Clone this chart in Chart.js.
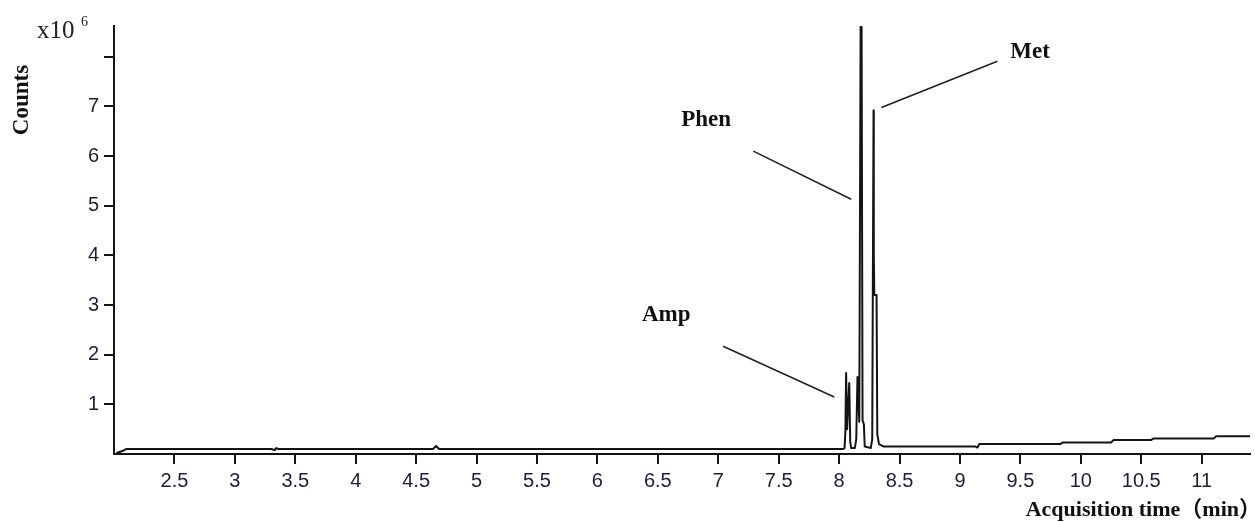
<!DOCTYPE html>
<html>
<head>
<meta charset="utf-8">
<script src="https://cdn.jsdelivr.net/npm/chart.js@4"></script>
<style>
  body { margin: 0; background: #fff; }
</style>
</head>
<body>
<canvas id="tic" width="1255" height="522"></canvas>
<script>
// total ion chromatogram, counts in units of 10^6
const retentionTime = [
  2.02, 2.07, 2.1, 3.3, 3.33, 3.345, 3.36, 4.64, 4.665, 4.69,
  8.03, 8.045, 8.052, 8.058, 8.066, 8.084, 8.092, 8.1,
  8.13, 8.142, 8.152, 8.167, 8.178, 8.186, 8.194, 8.205, 8.212,
  8.262, 8.274, 8.285, 8.287, 8.291, 8.31, 8.316, 8.33, 8.37,
  9.13, 9.145, 9.16, 9.83, 9.85, 10.25, 10.27, 10.58, 10.6, 11.1, 11.12, 11.4
];
const signal = [
  0.02, 0.06, 0.1, 0.1, 0.08, 0.12, 0.1, 0.1, 0.16, 0.1,
  0.1, 0.12, 0.45, 1.63, 0.5, 1.43, 0.25, 0.12,
  0.12, 0.3, 1.55, 0.65, 8.6, 8.6, 0.68, 0.6, 0.15,
  0.12, 0.3, 6.92, 4.04, 3.2, 3.2, 0.4, 0.2, 0.15,
  0.15, 0.13, 0.2, 0.2, 0.23, 0.23, 0.28, 0.28, 0.31, 0.31, 0.36, 0.36
];

const xTicks = [2.5, 3, 3.5, 4, 4.5, 5, 5.5, 6, 6.5, 7, 7.5, 8, 8.5, 9, 9.5, 10, 10.5, 11];
const yTicks = [1, 2, 3, 4, 5, 6, 7, 8];
const yTickLabels = ['1', '2', '3', '4', '5', '6', '7', ''];

// compound labels: text position and leader line (from -> to), in data units
const peakNames = ['Amp', 'Phen', 'Met'];
const labelAt = [[6.57, 2.80], [6.90, 6.72], [9.58, 8.09]];
const leaderFrom = [[7.04, 2.17], [7.29, 6.10], [9.31, 7.91]];
const leaderTo = [[7.96, 1.15], [8.10, 5.13], [8.35, 6.98]];

const points = retentionTime.map((t, i) => ({ x: t, y: signal[i] }));

const ink = '#141414';
const tickInk = '#1e1e34';
const serif = '"Liberation Serif", "Times New Roman", serif';

const decorations = {
  id: 'decorations',
  afterDraw(chart) {
    const ctx = chart.ctx;
    const xs = chart.scales.x, ys = chart.scales.y;
    ctx.save();

    // peak labels with leader lines
    ctx.strokeStyle = '#222';
    ctx.lineWidth = 1.6;
    ctx.fillStyle = '#111';
    ctx.font = 'bold 23px ' + serif;
    ctx.textAlign = 'center';
    ctx.textBaseline = 'middle';
    peakNames.forEach((name, i) => {
      ctx.fillText(name, xs.getPixelForValue(labelAt[i][0]), ys.getPixelForValue(labelAt[i][1]));
      ctx.beginPath();
      ctx.moveTo(xs.getPixelForValue(leaderFrom[i][0]), ys.getPixelForValue(leaderFrom[i][1]));
      ctx.lineTo(xs.getPixelForValue(leaderTo[i][0]), ys.getPixelForValue(leaderTo[i][1]));
      ctx.stroke();
    });

    // y axis title
    ctx.save();
    ctx.translate(22, 100);
    ctx.rotate(-Math.PI / 2);
    ctx.font = 'bold 23px ' + serif;
    ctx.fillText('Counts', 0, 0);
    ctx.restore();

    // scale factor
    ctx.textAlign = 'left';
    ctx.textBaseline = 'alphabetic';
    ctx.fillStyle = '#222';
    ctx.font = '25px ' + serif;
    ctx.fillText('x10', 37, 38);
    ctx.font = '14px ' + serif;
    ctx.fillText('6', 81, 26);

    // x axis title
    ctx.textAlign = 'right';
    ctx.fillStyle = '#111';
    ctx.font = 'bold 22px ' + serif + ', "Noto Sans CJK SC"';
    ctx.fillText('Acquisition time（min）', 1261, 516);

    ctx.restore();
  }
};

new Chart(document.getElementById('tic'), {
  type: 'scatter',
  data: {
    datasets: [{
      data: points,
      showLine: true,
      borderColor: ink,
      borderWidth: 2,
      borderJoinStyle: 'round',
      pointRadius: 0,
      tension: 0
    }]
  },
  options: {
    responsive: false,
    animation: false,
    layout: { padding: { top: 26, right: 5, left: 0, bottom: 0 } },
    plugins: { legend: { display: false }, tooltip: { enabled: false } },
    scales: {
      x: {
        type: 'linear',
        min: 2.0,
        max: 11.4,
        afterFit(scale) { scale.height = 68; },
        afterBuildTicks(scale) { scale.ticks = xTicks.map(v => ({ value: v })); },
        grid: { drawOnChartArea: false, color: ink, lineWidth: 2, tickLength: 10 },
        border: { color: ink, width: 2 },
        ticks: {
          color: tickInk,
          padding: 5,
          maxRotation: 0,
          autoSkip: false,
          font: { family: '"Liberation Sans", Arial, sans-serif', size: 20 },
          callback: v => String(v)
        }
      },
      y: {
        type: 'linear',
        min: 0,
        max: 8.62,
        afterFit(scale) { scale.width = 114; },
        afterBuildTicks(scale) { scale.ticks = yTicks.map(v => ({ value: v })); },
        grid: { drawOnChartArea: false, color: ink, lineWidth: 2, tickLength: 10 },
        border: { color: ink, width: 2 },
        ticks: {
          color: tickInk,
          padding: 5,
          autoSkip: false,
          font: { family: '"Liberation Sans", Arial, sans-serif', size: 20 },
          callback: (v, i) => yTickLabels[i]
        }
      }
    }
  },
  plugins: [decorations]
});
</script>
</body>
</html>
